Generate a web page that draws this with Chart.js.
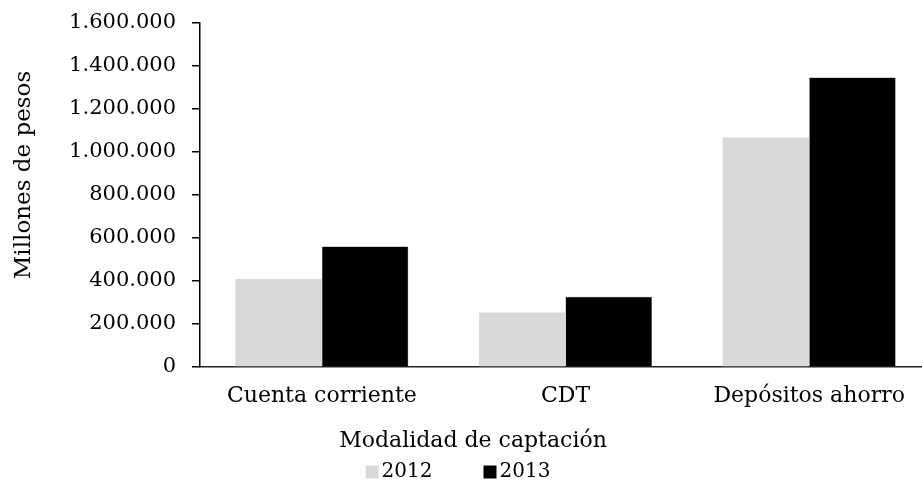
<!DOCTYPE html>
<html>
<head>
<meta charset="utf-8">
<script src="https://cdn.jsdelivr.net/npm/chart.js@4"></script>
<style>
  html, body { margin: 0; padding: 0; background: #fff; overflow: hidden; width: 922px; height: 482px; }
  #wrap { width: 935px; height: 482px; }
</style>
</head>
<body>
<div id="wrap"><canvas id="c" width="935" height="482"></canvas></div>
<script>
const categories = ['Cuenta corriente', 'CDT', 'Depósitos ahorro'];
const seriesNames = ['2012', '2013'];
const values2012 = [409000, 253000, 1068000];
const values2013 = [560000, 327000, 1347000];
const seriesColors = ['#d9d9d9', '#000000'];
const yTitle = 'Millones de pesos';
const xTitle = 'Modalidad de captación';

const FONT = 'DejaVu Serif';

function fmt(v) {
  return String(Math.round(v)).replace(/\B(?=(\d{3})+(?!\d))/g, '.');
}

const customLegend = {
  id: 'customLegend',
  afterDraw(chart) {
    const ctx = chart.ctx;
    ctx.save();
    ctx.font = '20px "' + FONT + '"';
    ctx.textBaseline = 'middle';
    ctx.fillStyle = '#000';
    const box = 13, gap = 3, itemGap = 51;
    const items = chart.data.datasets.map(d => ({ label: d.label, color: d.backgroundColor, w: ctx.measureText(d.label).width }));
    let total = 0;
    items.forEach((it, i) => { total += box + gap + it.w + (i ? itemGap : 0); });
    let x = 458 - total / 2;
    const yc = 472;
    items.forEach((it, i) => {
      if (i) x += itemGap;
      ctx.fillStyle = it.color;
      ctx.fillRect(x, yc - box / 2, box, box);
      x += box + gap;
      ctx.fillStyle = '#000';
      ctx.textAlign = 'left';
      ctx.fillText(it.label, x, yc);
      x += it.w;
    });
    ctx.restore();
  }
};

const titlesPlugin = {
  id: 'titlesPlugin',
  afterDraw(chart) {
    const ctx = chart.ctx;
    ctx.save();
    ctx.fillStyle = '#000';
    ctx.textAlign = 'center';
    ctx.textBaseline = 'middle';
    ctx.font = '22px "' + FONT + '"';
    ctx.fillText(xTitle, 473, 441);
    ctx.font = '23px "' + FONT + '"';
    ctx.translate(24, 175);
    ctx.rotate(-Math.PI / 2);
    ctx.fillText(yTitle, 0, 0);
    ctx.restore();
  }
};

new Chart(document.getElementById('c'), {
  type: 'bar',
  data: {
    labels: categories,
    datasets: [
      { label: seriesNames[0], data: values2012, backgroundColor: seriesColors[0], borderWidth: 0 },
      { label: seriesNames[1], data: values2013, backgroundColor: seriesColors[1], borderColor: '#555', borderWidth: 0.5 }
    ]
  },
  options: {
    responsive: false,
    animation: false,
    devicePixelRatio: 1,
    layout: { padding: { top: 23, right: 4, left: 0, bottom: 0 } },
    datasets: { bar: { categoryPercentage: 0.71, barPercentage: 1 } },
    plugins: {
      legend: { display: false },
      tooltip: { enabled: false }
    },
    scales: {
      x: {
        grid: { display: true, drawOnChartArea: false, drawTicks: false, color: 'transparent' },
        border: { display: true, color: '#222', width: 1.5 },
        ticks: { color: '#000', font: { family: FONT, size: 22 }, padding: 16, maxRotation: 0 },
        afterFit(s) { s.height = 115; s.paddingLeft = 0; s.paddingRight = 0; }
      },
      y: {
        min: 0, max: 1600000,
        grid: { drawOnChartArea: false, drawTicks: true, tickLength: 8, color: '#000', lineWidth: 1.5 },
        border: { display: true, color: '#000', width: 1.5 },
        ticks: { stepSize: 200000, color: '#000', font: { family: FONT, size: 21 }, padding: 16, callback: v => fmt(v) },
        afterFit(s) { s.width = 200; s.paddingTop = 0; s.paddingBottom = 0; }
      }
    }
  },
  plugins: [customLegend, titlesPlugin]
});
</script>
</body>
</html>
